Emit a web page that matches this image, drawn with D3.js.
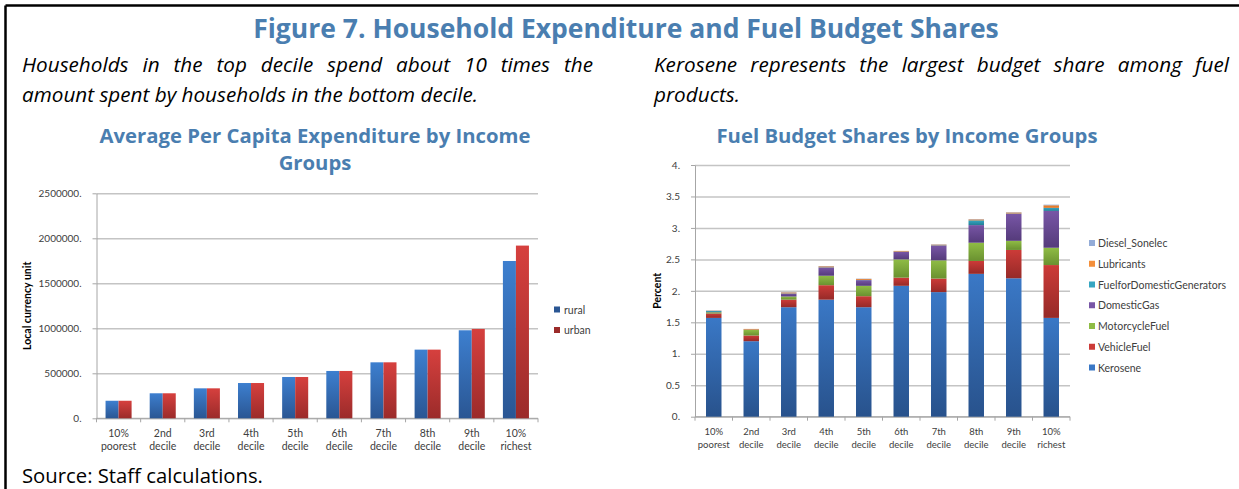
<!DOCTYPE html>
<meta charset="utf-8">
<style>
body { margin: 0; background: #fff; }
svg { display: block; }
.fig-title { font-family: "Open Sans", sans-serif; font-weight: 700; fill: #4a7eb0; }
.sub { font-family: "Open Sans", sans-serif; font-style: italic; font-size: 20.7px; fill: #000; }
.source { font-family: "Open Sans", sans-serif; font-size: 20.3px; fill: #000; }
.axis text { font-family: Lato, sans-serif; font-size: 10px; fill: #404040; }
.axis path, .axis line { stroke: #a6a6a6; }
.grid line { stroke: #c4c4c4; stroke-width: 1.5; }
.grid path { display: none; }
.xlab { font-family: Lato, sans-serif; fill: #404040; }
.ytitle { font-family: Lato, sans-serif; font-weight: 700; font-size: 10.5px; fill: #000; }
.legend text { font-family: Lato, sans-serif; font-size: 10.5px; fill: #404040; }
</style>
<svg width="1239" height="489"></svg>
<script src="https://d3js.org/d3.v7.min.js"></script>
<script>
// income groups (two-line labels)
const deciles = ["10%\npoorest", "2nd\ndecile", "3rd\ndecile", "4th\ndecile", "5th\ndecile",
  "6th\ndecile", "7th\ndecile", "8th\ndecile", "9th\ndecile", "10%\nrichest"]

// average per capita expenditure
const rural = [195000, 278000, 333000, 392000, 459000, 526000, 622000, 763000, 978000, 1748000]
const urban = [195000, 278000, 333000, 392000, 459000, 526000, 622000, 763000, 993000, 1919000]
const expTicks = [0, 500000, 1000000, 1500000, 2000000, 2500000]
const expTickLabels = ["0.", "500000.", "1000000.", "1500000.", "2000000.", "2500000."]

// fuel budget shares (percent), bottom to top
const fuelKeys = ["Kerosene", "VehicleFuel", "MotorcycleFuel", "DomesticGas",
  "FuelforDomesticGenerators", "Lubricants", "Diesel_Sonelec"]
const kerosene       = [1.57, 1.20, 1.74, 1.86, 1.74, 2.08, 1.98, 2.27, 2.20, 1.57]
const vehicleFuel    = [0.07, 0.09, 0.12, 0.23, 0.175, 0.13, 0.215, 0.205, 0.45, 0.84]
const motorcycleFuel = [0.02, 0.09, 0.05, 0.15, 0.165, 0.29, 0.29, 0.29, 0.145, 0.275]
const domesticGas    = [0.005, 0.003, 0.045, 0.13, 0.09, 0.12, 0.235, 0.28, 0.43, 0.585]
const generators     = [0.015, 0.002, 0.005, 0.005, 0.005, 0.005, 0.005, 0.075, 0.005, 0.05]
const lubricants     = [0.005, 0.01, 0.015, 0.015, 0.015, 0.01, 0.01, 0.015, 0.015, 0.04]
const dieselSonelec  = [0.005, 0, 0.005, 0.005, 0.005, 0, 0.005, 0.005, 0.005, 0.01]
const fuelTicks = [0, 0.5, 1, 1.5, 2, 2.5, 3, 3.5, 4]
const fuelTickLabels = ["0.", "0.5", "1.", "1.5", "2.", "2.5", "3.", "3.5", "4."]

// [top, bottom] gradient colours
const colors = {
  rural: ["#3d7fcf", "#2a5693"],
  urban: ["#d6403e", "#9b2b2a"],
  Kerosene: ["#3a78c6", "#28528c"],
  VehicleFuel: ["#cc3b38", "#962a28"],
  MotorcycleFuel: ["#8fbc45", "#6a9130"],
  DomesticGas: ["#7856a6", "#553b7b"],
  FuelforDomesticGenerators: ["#36a6c2", "#237f96"],
  Lubricants: ["#f48f3a", "#d96a1b"],
  Diesel_Sonelec: ["#93acd8", "#6c8abf"]
}

const svg = d3.select("svg")
const defs = svg.append("defs")
Object.keys(colors).forEach(k => {
  const g = defs.append("linearGradient").attr("id", "g-" + k)
      .attr("x1", 0).attr("y1", 0).attr("x2", 0).attr("y2", 1)
  g.append("stop").attr("offset", "0%").attr("stop-color", colors[k][0])
  g.append("stop").attr("offset", "100%").attr("stop-color", colors[k][1])
})

// frame
svg.append("line").attr("x1", 5.5).attr("x2", 1239).attr("y1", 5.5).attr("y2", 5.5)
    .attr("stroke", "#000").attr("stroke-width", 2.5)
svg.append("line").attr("x1", 5.5).attr("x2", 5.5).attr("y1", 5.5).attr("y2", 489)
    .attr("stroke", "#000").attr("stroke-width", 2.5)

// headings
svg.append("text").attr("class", "fig-title").attr("x", 626).attr("y", 38)
    .attr("text-anchor", "middle").style("font-size", "26.5px")
    .text("Figure 7. Household Expenditure and Fuel Budget Shares")

function subtitle(x, w, line1, line2) {
  const t = svg.append("text").attr("class", "sub").attr("x", x).attr("y", 72).text(line1)
  // justify first line by widening the gaps between words
  const gap = (w - t.node().getComputedTextLength()) / (line1.split(" ").length - 1)
  t.style("word-spacing", gap + "px")
  svg.append("text").attr("class", "sub").attr("x", x).attr("y", 102).text(line2)
}
subtitle(22, 571, "Households in the top decile spend about 10 times the",
  "amount spent by households in the bottom decile.")
subtitle(654, 575, "Kerosene represents the largest budget share among fuel", "products.")

svg.append("text").attr("class", "source").attr("x", 22).attr("y", 483)
    .text("Source: Staff calculations.")

// shared axis drawing
function drawAxes(g, x, y, ticks, labels, labelSize, yTitle, yTitleX) {
  const [x0, x1] = x.range()
  const [yb, yt] = y.range()

  g.append("g").attr("class", "grid")
      .attr("transform", `translate(${x0},0)`)
      .call(d3.axisLeft(y).tickValues(ticks).tickSize(-(x1 - x0)).tickFormat(""))

  g.append("g").attr("class", "axis")
      .attr("transform", `translate(${x0},0)`)
      .call(d3.axisLeft(y).tickValues(ticks).tickSizeInner(4).tickSizeOuter(0)
        .tickPadding(11).tickFormat((d, i) => labels[i]))

  // category separators on the baseline
  const xa = g.append("g").attr("class", "axis")
  xa.append("line").attr("x1", x0).attr("x2", x1).attr("y1", yb).attr("y2", yb)
  d3.range(deciles.length + 1).forEach(i => {
    const px = x0 + i * x.step()
    xa.append("line").attr("x1", px).attr("x2", px).attr("y1", yb).attr("y2", yb + 4)
  })

  const lab = g.append("g").selectAll("text").data(deciles).join("text")
      .attr("class", "xlab").attr("text-anchor", "middle")
      .style("font-size", labelSize + "px")
  lab.append("tspan").attr("x", d => x(d) + x.bandwidth() / 2).attr("y", yb + 18.5)
      .text(d => d.split("\n")[0])
  lab.append("tspan").attr("x", d => x(d) + x.bandwidth() / 2).attr("y", yb + 31.5)
      .text(d => d.split("\n")[1])

  g.append("text").attr("class", "ytitle")
      .attr("transform", `translate(${yTitleX},${(yb + yt) / 2}) rotate(-90)`)
      .attr("text-anchor", "middle").text(yTitle)
}

// ---- left chart: grouped bars ----
const left = svg.append("g")
left.append("text").attr("class", "fig-title").attr("text-anchor", "middle")
    .style("font-size", "20.3px")
  .selectAll("tspan").data(["Average Per Capita Expenditure by Income", "Groups"]).join("tspan")
    .attr("x", 315).attr("y", (d, i) => 143 + i * 27).text(d => d)

const xL = d3.scaleBand().domain(deciles).range([96.5, 538]).paddingInner(0.41).paddingOuter(0.205)
const yL = d3.scaleLinear().domain([0, 2500000]).range([418.3, 193.3])
const xSub = d3.scaleBand().domain(["rural", "urban"]).range([0, xL.bandwidth()])

drawAxes(left, xL, yL, expTicks, expTickLabels, 10.5, "Local currency unit", 31)

const expRows = deciles.map((d, i) => ({ decile: d, rural: rural[i], urban: urban[i] }))
left.append("g").selectAll("g").data(expRows).join("g")
    .attr("transform", d => `translate(${xL(d.decile)},0)`)
  .selectAll("rect").data(d => ["rural", "urban"].map(k => ({ key: k, value: d[k] }))).join("rect")
    .attr("x", d => xSub(d.key))
    .attr("width", xSub.bandwidth())
    .attr("y", d => yL(d.value))
    .attr("height", d => yL(0) - yL(d.value))
    .attr("fill", d => `url(#g-${d.key})`)

const legL = left.append("g").attr("class", "legend")
  .selectAll("g").data(["rural", "urban"]).join("g")
    .attr("transform", (d, i) => `translate(554,${310 + i * 20.5})`)
legL.append("rect").attr("x", 0).attr("y", -3.5).attr("width", 6).attr("height", 6)
    .attr("fill", d => colors[d][1])
legL.append("text").attr("x", 10).attr("dy", "0.35em").text(d => d)

// ---- right chart: stacked bars ----
const right = svg.append("g")
right.append("text").attr("class", "fig-title").attr("text-anchor", "middle")
    .style("font-size", "20.3px").attr("x", 907).attr("y", 143)
    .text("Fuel Budget Shares by Income Groups")

const xR = d3.scaleBand().domain(deciles).range([695, 1070]).paddingInner(0.587).paddingOuter(0.2935)
const yR = d3.scaleLinear().domain([0, 4]).range([416.7, 165])

drawAxes(right, xR, yR, fuelTicks, fuelTickLabels, 9.5, "Percent", 661)

const fuelSeriesValues = [kerosene, vehicleFuel, motorcycleFuel, domesticGas, generators, lubricants, dieselSonelec]
const fuelRows = deciles.map((d, i) => {
  const row = { decile: d }
  fuelKeys.forEach((k, j) => { row[k] = fuelSeriesValues[j][i] })
  return row
})
const stacked = d3.stack().keys(fuelKeys)(fuelRows)

right.append("g").selectAll("g").data(stacked).join("g")
    .attr("fill", s => `url(#g-${s.key})`)
  .selectAll("rect").data(s => s).join("rect")
    .attr("x", d => xR(d.data.decile))
    .attr("width", xR.bandwidth())
    .attr("y", d => yR(d[1]))
    .attr("height", d => yR(d[0]) - yR(d[1]))

const legR = right.append("g").attr("class", "legend")
  .selectAll("g").data(fuelKeys.slice().reverse()).join("g")
    .attr("transform", (d, i) => `translate(1089,${243.5 + i * 20.75})`)
legR.append("rect").attr("x", 0).attr("y", -3.5).attr("width", 6).attr("height", 6)
    .attr("fill", d => colors[d][0])
legR.append("text").attr("x", 9).attr("dy", "0.35em").text(d => d)
</script>
